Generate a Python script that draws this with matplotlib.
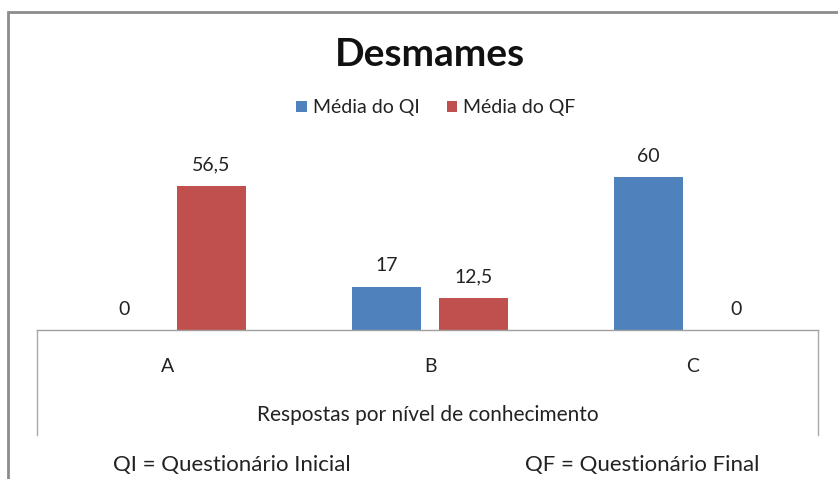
import matplotlib.pyplot as plt
from matplotlib.patches import Rectangle
from matplotlib.lines import Line2D
import numpy as np

# data
categories = ["A", "B", "C"]
media_qi = [0, 17, 60]
media_qf = [56.5, 12.5, 0]
value_labels_qi = ["0", "17", "60"]
value_labels_qf = ["56,5", "12,5", "0"]

BLUE = "#4F81BD"
RED = "#C0504D"
W, H = 838, 479

plt.rcParams["font.family"] = ["Lato", "DejaVu Sans"]

fig = plt.figure(figsize=(W / 100, H / 100), dpi=100)
fig.patch.set_facecolor("white")

# plot area: baseline at y=330px, 2.55 px per unit
base_y = 330
ymax = 70
ax = fig.add_axes([37 / W, (H - base_y) / H, (818 - 37) / W, ymax * 2.55 / H])

x = np.arange(len(categories))
width = 0.263
off = 0.166
ax.bar(x - off, media_qi, width, color=BLUE, label="Média do QI")
ax.bar(x + off, media_qf, width, color=RED, label="Média do QF")

for xi, v, s in zip(x - off, media_qi, value_labels_qi):
    ax.annotate(s, (xi, v), xytext=(0, 15), textcoords="offset points",
                ha="center", va="center", fontsize=14, color="#222222")
for xi, v, s in zip(x + off, media_qf, value_labels_qf):
    ax.annotate(s, (xi, v), xytext=(0, 15), textcoords="offset points",
                ha="center", va="center", fontsize=14, color="#222222")

ax.set_xlim(-0.5, 2.48)
ax.set_ylim(0, ymax)
ax.set_yticks([])
ax.set_xticks(x)
ax.set_xticklabels(categories, fontsize=14, color="#222222")
ax.tick_params(axis="x", length=0, pad=20)
for sp in ["top", "left", "right"]:
    ax.spines[sp].set_visible(False)
ax.spines["bottom"].set_color("#a0a0a0")
ax.spines["bottom"].set_linewidth(1)
ax.set_xlabel("Respostas por nível de conhecimento", fontsize=15,
              color="#222222", labelpad=22)
ax.patch.set_alpha(0)

# box lines below the baseline
for px in (37, 818):
    fig.add_artist(Line2D([px / W, px / W], [(H - base_y) / H, (H - 435) / H],
                          color="#a8a8a8", lw=1))

# outer chart frame (runs off the right and bottom edges)
fig.add_artist(Rectangle((8 / W, -0.1), 1.2, 1 - 12 / H + 0.1, fill=False,
                         edgecolor="#8c8c8c", lw=2))

fig.text(430 / W, 1 - 54 / H, "Desmames", ha="center", va="center",
         fontsize=28, fontweight="bold", color="#111111")

fig.legend(loc="center", bbox_to_anchor=(436 / W, 1 - 108 / H), ncol=2,
           frameon=False, fontsize=14, handlelength=0.55, handleheight=0.55,
           handletextpad=0.3, columnspacing=1.4, labelcolor="#222222")

fig.text(232 / W, 1 - 465 / H, "QI = Questionário Inicial", ha="center",
         va="center", fontsize=16, color="#222222")
fig.text(642 / W, 1 - 465 / H, "QF = Questionário Final", ha="center",
         va="center", fontsize=16, color="#222222")

fig.savefig("out.png", dpi=100)
